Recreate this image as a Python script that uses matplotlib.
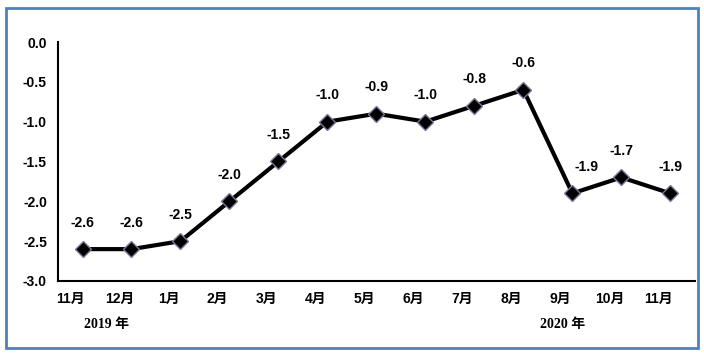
import matplotlib

matplotlib.use("Agg")
import matplotlib.pyplot as plt
import matplotlib.transforms as mtransforms
from matplotlib.patches import Rectangle

months = ["11月", "12月", "1月", "2月", "3月", "4月", "5月", "6月", "7月", "8月", "9月", "10月", "11月"]
values = [-2.6, -2.6, -2.5, -2.0, -1.5, -1.0, -0.9, -1.0, -0.8, -0.6, -1.9, -1.7, -1.9]
years = ["2019 年", "2020 年"]
year_pos = [0.5, 9.8]

plt.rcParams["font.family"] = ["Liberation Sans", "Noto Sans CJK SC"]

fig = plt.figure(figsize=(7.04, 3.56), dpi=100)
ax = fig.add_axes([0.0824, 0.2107, 0.9046, 0.6713])

x = list(range(len(values)))
ax.plot(x, values, color="black", lw=3, marker="D", markersize=8.5,
        markerfacecolor="black", markeredgecolor="#7a7898", markeredgewidth=1.0, zorder=3)

for xi, v in zip(x, values):
    dx = 10 if xi == 10 else 0  # the 9月 label sits right of the drop
    ax.annotate("%.1f" % v, (xi, v), xytext=(dx, 14), textcoords="offset points",
                ha="center", va="bottom", fontsize=10, fontweight="bold")

ax.set_xlim(-0.5, len(values) - 0.5)
ax.set_ylim(-3.0, 0.0)
yt = [0.0, -0.5, -1.0, -1.5, -2.0, -2.5, -3.0]
ax.set_yticks(yt)
ax.set_yticklabels(["%.1f" % t for t in yt], fontsize=10, fontweight="bold")
ax.set_xticks(x)
ax.set_xticklabels(months, fontsize=10, fontweight="bold")
ax.tick_params(axis="both", length=0)
ax.tick_params(axis="y", pad=8)
ax.tick_params(axis="x", pad=8)
shift = mtransforms.ScaledTranslation(-12 / 100, 0, fig.dpi_scale_trans)
for lbl in ax.get_xticklabels():
    lbl.set_transform(lbl.get_transform() + shift)

for side in ["top", "right"]:
    ax.spines[side].set_visible(False)
ax.spines["left"].set_linewidth(1.5)
ax.spines["bottom"].set_linewidth(1.5)

for yp, yl in zip(year_pos, years):
    ax.text(yp, -0.184, yl, transform=ax.get_xaxis_transform(), ha="center", va="center",
            fontsize=10, fontweight="bold", family=["Liberation Serif", "Noto Sans CJK SC"])

fig.patches.append(Rectangle((6 / 704, 8 / 356), 692 / 704, 340 / 356, transform=fig.transFigure,
                             fill=False, edgecolor="#4F81BD", lw=2))

fig.savefig("out.png", dpi=100)
